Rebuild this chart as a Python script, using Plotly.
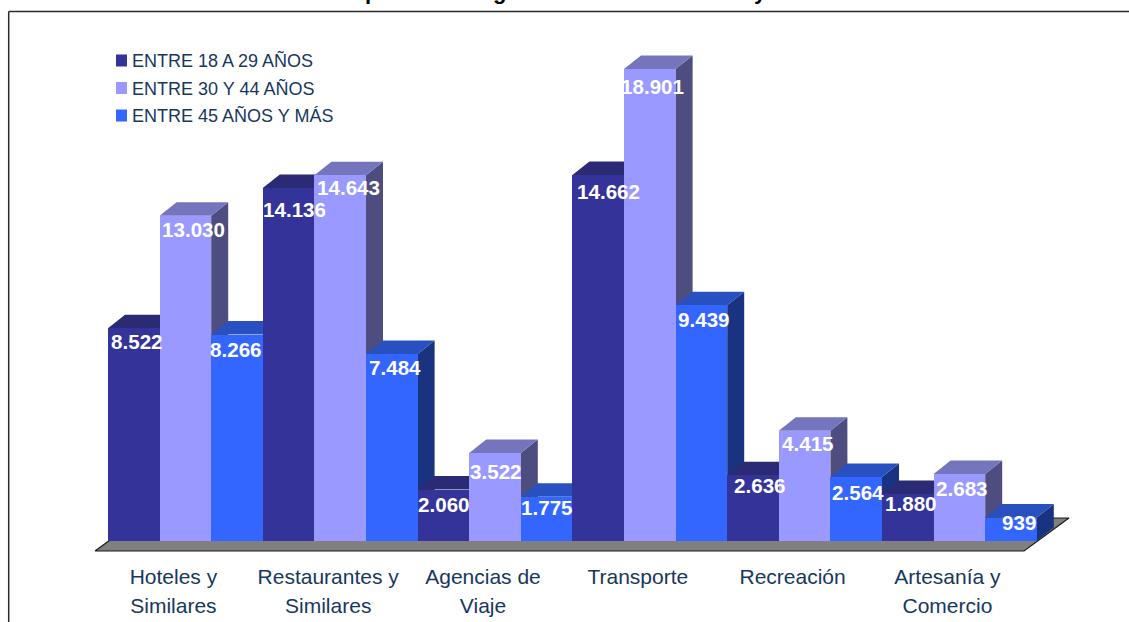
import plotly.graph_objects as go

# ---------- data ----------
CATEGORY_LINE1 = ["Hoteles y", "Restaurantes y", "Agencias de", "Transporte", "Recreación", "Artesanía y"]
CATEGORY_LINE2 = ["Similares", "Similares", "Viaje", "", "", "Comercio"]
SERIES_NAMES = ["ENTRE 18 A 29 AÑOS", "ENTRE 30 Y 44 AÑOS", "ENTRE 45 AÑOS Y MÁS"]
AGE_18_29 = [8522, 14136, 2060, 14662, 2636, 1880]
AGE_30_44 = [13030, 14643, 3522, 18901, 4415, 2683]
AGE_45_UP = [8266, 7484, 1775, 9439, 2564, 939]
SERIES = [AGE_18_29, AGE_30_44, AGE_45_UP]

# ---------- style ----------
FRONT = ["#333399", "#9999FF", "#3366FF"]
TOP = ["#2A2A75", "#7575BE", "#2850C0"]
SIDE = ["#1B1B50", "#4D4D80", "#193380"]
LABEL_DX = [[3.2, 5.4, 0.6, 9.8, 7, 3.2], [7.6, 7.8, 1, 2.2, 3.4, 2.6], [-1, 3.2, 0.4, 2.6, 1.8, 8]]
LABEL_DY = [[12.8, 21, 15.4, 17, 10.8, 9], [13.4, 12.6, 18, 17, 13.2, 14], [14.4, 13, 11.3, 13.7, 16, 5.4]]
TEXT = "#17375E"
FONT = "Liberation Sans, Arial, sans-serif"
W, H = 1129, 622
PX_X = 154.8          # pixels per category
X0_PX = 185.4         # pixel of first category centre
PX_Y = 0.02497        # pixels per value unit
Y0_PX = 541           # pixel of the zero line
PLOT_BOTTOM = 556
DX = 17 / PX_X
DY = 13.5 / PX_Y
TICK_SHIFT = -12 / PX_X

xrange_ = [(0 - X0_PX) / PX_X, (W - X0_PX) / PX_X]
yrange_ = [(Y0_PX - PLOT_BOTTOM) / PX_Y, Y0_PX / PX_Y]


def px(x):
    return x / W


def py(y):
    return 1 - y / PLOT_BOTTOM


fig = go.Figure()


def poly(xs, ys, color, line=None, width=0):
    fig.add_trace(go.Scatter(x=xs + xs[:1], y=ys + ys[:1], mode="lines", fill="toself", fillcolor=color,
                             line=dict(width=width, color=line or color), hoverinfo="skip", showlegend=False,
                             xaxis="x", yaxis="y"))


# floor
fx0, fx1 = (95 - X0_PX) / PX_X, (1024 - X0_PX) / PX_X
fy0 = (Y0_PX - 551) / PX_Y
fdx, fdy = 45 / PX_X, 33 / PX_Y
poly([fx0, fx1, fx1 + fdx, fx0 + fdx], [fy0, fy0, fy0 + fdy, fy0 + fdy], "#808080", "#1a1a1a", 1.2)

# depth faces, painted left to right
for i in range(len(CATEGORY_LINE1)):
    for j, vals in enumerate(SERIES):
        v = vals[i]
        l = i - 0.5 + j / 3
        r = l + 1 / 3
        poly([r, r, r + DX, r + DX], [v, 0, DY, v + DY], SIDE[j])
        poly([l, r, r + DX, l + DX], [v, v, v + DY, v + DY], TOP[j])

# front faces
for j, vals in enumerate(SERIES):
    fig.add_trace(go.Bar(x=list(range(6)), y=vals, name=SERIES_NAMES[j], marker=dict(color=FRONT[j], line_width=0),
                         xaxis="x2", yaxis="y2", showlegend=False))

ann = []
# value labels
for j, vals in enumerate(SERIES):
    for i, v in enumerate(vals):
        ann.append(dict(x=i - 0.5 + (j + 0.5) / 3, y=v, xref="x2", yref="y2", showarrow=False,
                        text=f"{v:,}".replace(",", "."), xanchor="center", yanchor="middle",
                        xshift=LABEL_DX[j][i], yshift=-LABEL_DY[j][i],
                        font=dict(family=FONT, size=20.6, color="white", weight="bold")))

# legend
shapes = []
for k, name in enumerate(SERIES_NAMES):
    yc = 60.5 + 27.5 * k
    shapes.append(dict(type="rect", xref="paper", yref="paper", x0=px(116), x1=px(127), y0=py(yc - 6), y1=py(yc + 6),
                       fillcolor=FRONT[k], line_width=0))
    ann.append(dict(x=px(130), y=py(yc), xref="paper", yref="paper", showarrow=False, text=name, xanchor="left",
                    yanchor="middle", font=dict(family=FONT, size=18, color=TEXT)))

# frame
shapes.append(dict(type="line", xref="paper", yref="paper", x0=px(8.7), x1=px(8.7), y0=py(11.5), y1=py(622),
                   line=dict(color="#2a2a2a", width=1.5)))
shapes.append(dict(type="line", xref="paper", yref="paper", x0=px(8.7), x1=px(1129), y0=py(11.5), y1=py(11.5),
                   line=dict(color="#2a2a2a", width=1.5)))

# title: only the descenders of three glyphs remain visible at the page edge
for ch, xpos in zip(["p", "g", "y"], [371, 499, 760]):
    ann.append(dict(x=px(xpos), y=py(-9), xref="paper", yref="paper", showarrow=False, text=ch, xanchor="center",
                    yanchor="middle", font=dict(family=FONT, size=22, color="black", weight="bold")))

tickvals = [i + TICK_SHIFT for i in range(6)]
axis_common = dict(range=xrange_, showgrid=False, zeroline=False, showline=False, tickmode="array", tickvals=tickvals,
                   tickfont=dict(family=FONT, size=21, color=TEXT), tickangle=0, ticks="outside",
                   tickcolor="rgba(0,0,0,0)", automargin=False)
yaxis_common = dict(range=yrange_, visible=False, fixedrange=True)

fig.update_layout(
    width=W, height=H, margin=dict(l=0, r=0, t=0, b=H - PLOT_BOTTOM), paper_bgcolor="white", plot_bgcolor="rgba(0,0,0,0)",
    barmode="group", bargap=0, bargroupgap=0, showlegend=False, annotations=ann, shapes=shapes,
    xaxis=dict(ticktext=CATEGORY_LINE1, ticklen=2, **axis_common),
    yaxis=yaxis_common,
    xaxis2=dict(ticktext=CATEGORY_LINE2, ticklen=31, overlaying="x", anchor="y2", **axis_common),
    yaxis2=dict(overlaying="y", anchor="x2", **yaxis_common),
)

fig.write_html("out.html", config={"displayModeBar": False},
               post_script="document.body.style.margin='0';document.documentElement.style.overflow='hidden';")
